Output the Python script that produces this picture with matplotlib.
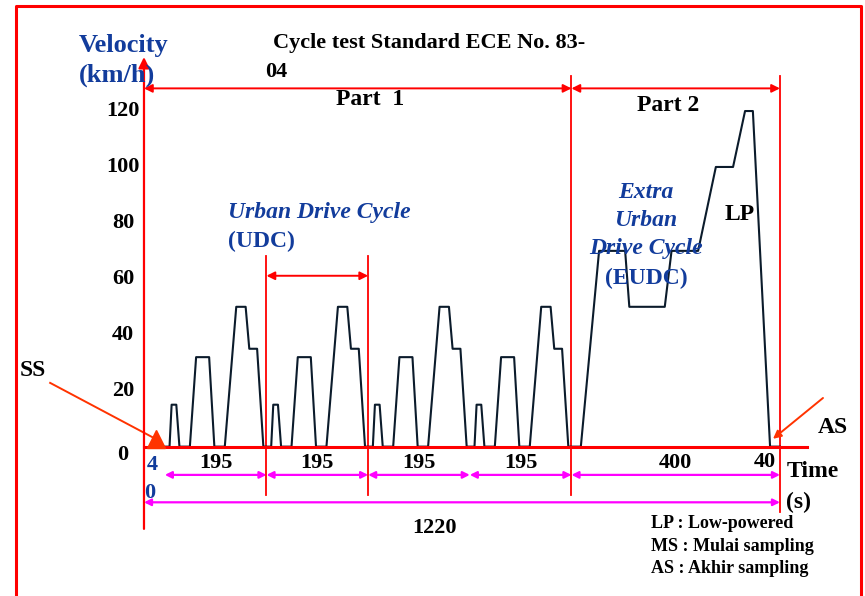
import numpy as np
import matplotlib.pyplot as plt

# one urban cycle (ECE-15), seconds from cycle start / km/h
udc_time = [0, 9, 13, 22, 28, 48, 60, 85, 95, 115, 137, 155, 162, 177, 189, 195]
udc_speed = [0, 0, 15, 15, 0, 0, 32, 32, 0, 0, 50, 50, 35, 35, 0, 0]
udc_starts = [40, 235, 430, 625]

# extra urban part
eudc_time = [820, 838, 873, 923, 931, 999, 1012, 1063, 1097, 1130, 1153, 1168, 1201, 1220]
eudc_speed = [0, 0, 70, 70, 50, 50, 70, 70, 100, 100, 120, 120, 0, 0]

y_ticks = [0, 20, 40, 60, 80, 100, 120]
seg_bounds = [40, 235, 430, 625, 820, 1220]
seg_labels = ["195", "195", "195", "195", "400"]
total_time = 1220
part_split = 820

legend_lines = ["LP : Low-powered", "MS : Mulai sampling", "AS : Akhir sampling"]

RED = "#ff0000"
BLUE = "#123c9c"
MAG = "#ff00ff"
ORANGE = "#ff3300"
serif = "Liberation Serif"

fig = plt.figure(figsize=(8.65, 5.96), dpi=100)
ax = fig.add_axes([0, 0, 1, 1])
ax.set_xlim(-276.2, 1383.1)
ax.set_ylim(-53.4, 159.7)
ax.axis("off")


def double_arrow(x0, x1, y, color, lw=1.5, size=11):
    ax.annotate("", xy=(x0, y), xytext=(x1, y),
                arrowprops=dict(arrowstyle="<|-|>", color=color, lw=lw,
                                mutation_scale=size, shrinkA=0, shrinkB=0))


# velocity trace
t_all, v_all = [], []
for s in udc_starts:
    t_all += [s + t for t in udc_time]
    v_all += udc_speed
t_all += eudc_time
v_all += eudc_speed
ax.plot(t_all, v_all, color="#0b1b2b", lw=1.5, zorder=3)

# outer frame
ax.plot([-245.5, -245.5, 1375.4, 1375.4], [-60, 157.6, 157.6, -60], color=RED, lw=2.2, clip_on=False)

# axes
ax.annotate("", xy=(0, 139.3), xytext=(0, -29.4),
            arrowprops=dict(arrowstyle="-|>", color=RED, lw=1.6, mutation_scale=16,
                            shrinkA=0, shrinkB=0))
ax.plot([0, 1271.8], [0, 0], color=RED, lw=2.2, zorder=4)

# part arrows and dividers
double_arrow(0, part_split, 128.1, RED, lw=1.4, size=12)
double_arrow(part_split, total_time, 128.1, RED, lw=1.4, size=12)
ax.plot([part_split, part_split], [132.5, -17.3], color=RED, lw=1.3)
ax.plot([total_time, total_time], [132.5, -23.3], color=RED, lw=1.3)
for b in seg_bounds[1:3]:
    ax.plot([b, b], [68.2, -17.3], color=RED, lw=1.3)
double_arrow(seg_bounds[1], seg_bounds[2], 61.1, RED, lw=1.4, size=12)

# time segment arrows
for a, b, lab in zip(seg_bounds[:-1], seg_bounds[1:], seg_labels):
    double_arrow(a, b, -10.1, MAG, lw=1.6, size=10)
    ax.text((a + b) / 2, -5.8, lab, ha="center", va="center", fontsize=16,
            fontweight="bold", family=serif)
double_arrow(0, total_time, -19.9, MAG, lw=1.6, size=10)
ax.text(558, -29, str(total_time), ha="center", va="center", fontsize=16,
        fontweight="bold", family=serif)
ax.text(1191, -5.5, "40", ha="center", va="center", fontsize=16,
        fontweight="bold", family=serif)
ax.text(15.3, -6.5, "4", ha="center", va="center", fontsize=16,
        fontweight="bold", family=serif, color=BLUE)
ax.text(11.5, -16.6, "0", ha="center", va="center", fontsize=16,
        fontweight="bold", family=serif, color=BLUE)

# y tick labels
for v in y_ticks:
    yy = v if v > 0 else -3
    ax.text(-40.3, yy, str(v), ha="center", va="center", fontsize=16,
            fontweight="bold", family=serif)

ax.text(1283, -8.9, "Time", ha="center", va="center", fontsize=17,
        fontweight="bold", family=serif)
ax.text(1254.6, -19.8, "(s)", ha="center", va="center", fontsize=17,
        fontweight="bold", family=serif)

# labels
ax.text(-124.7, 143.6, "Velocity", ha="left", va="center", fontsize=19,
        fontweight="bold", family=serif, color=BLUE)
ax.text(-124.7, 132.9, "(km/h)", ha="left", va="center", fontsize=19,
        fontweight="bold", family=serif, color=BLUE)
ax.text(247.5, 144.3, "Cycle test Standard ECE No. 83-", ha="left", va="center",
        fontsize=16, fontweight="bold", family=serif)
ax.text(232, 134, "04", ha="left", va="center", fontsize=16,
        fontweight="bold", family=serif)
ax.text(433.5, 124, "Part  1", ha="center", va="center", fontsize=17,
        fontweight="bold", family=serif)
ax.text(1005, 121.8, "Part 2", ha="center", va="center", fontsize=17,
        fontweight="bold", family=serif)

ax.text(161, 83.6, "Urban Drive Cycle", ha="left", va="center", fontsize=17,
        fontweight="bold", style="italic", family=serif, color=BLUE)
ax.text(161, 73.2, "(UDC)", ha="left", va="center", fontsize=17,
        fontweight="bold", family=serif, color=BLUE)
for yy, s, it in [(91, "Extra", True), (80.7, "Urban", True),
                  (70.7, "Drive Cycle", True), (60.3, "(EUDC)", False)]:
    ax.text(963, yy, s, ha="center", va="center", fontsize=17, fontweight="bold",
            style="italic" if it else "normal", family=serif, color=BLUE, zorder=4)
ax.text(1143, 83.1, "LP", ha="center", va="center", fontsize=17,
        fontweight="bold", family=serif)

# SS / AS markers
ax.text(-213, 27.4, "SS", ha="center", va="center", fontsize=17,
        fontweight="bold", family=serif)
ax.plot([-180, 18], [22.8, 3.2], color=ORANGE, lw=1.4)
ax.plot([23], [2.6], marker="^", markersize=13, color=ORANGE, zorder=5)
ax.text(1321.7, 6.7, "AS", ha="center", va="center", fontsize=17,
        fontweight="bold", family=serif)
ax.annotate("", xy=(1206.6, 2.8), xytext=(1302.5, 17.4),
            arrowprops=dict(arrowstyle="-|>", color=ORANGE, lw=1.4, mutation_scale=12,
                            shrinkA=0, shrinkB=0))

for i, s in enumerate(legend_lines):
    ax.text(972.6, -27.6 - i * 8.0, s, ha="left", va="center", fontsize=13,
            fontweight="bold", family=serif)

fig.savefig("out.png", dpi=100)
